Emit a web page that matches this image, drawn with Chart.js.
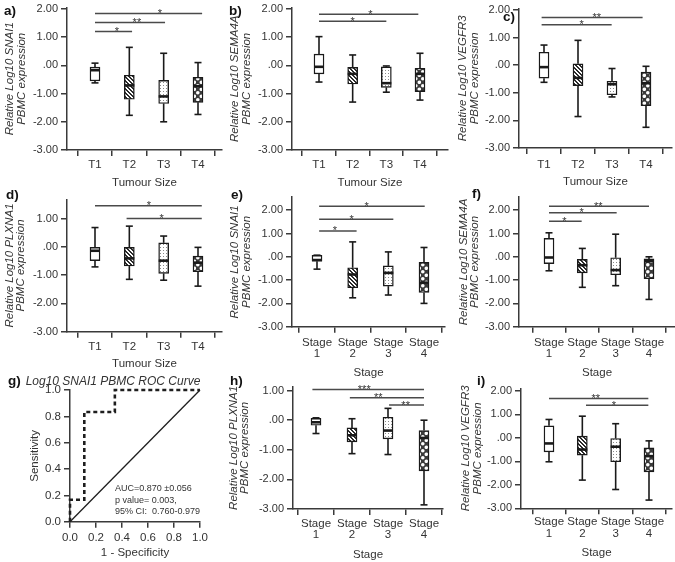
<!DOCTYPE html>
<html><head><meta charset="utf-8">
<script src="https://cdn.jsdelivr.net/npm/chart.js@4/dist/chart.umd.min.js"></script>
<style>
html,body{margin:0;padding:0;background:#fff;width:675px;height:562px;overflow:hidden;position:relative}
canvas{position:absolute}
</style></head><body>
<script>
// ---------------- DATA ----------------
const tumourCats = ['T1','T2','T3','T4'];
const stageCats = [['Stage','1'],['Stage','2'],['Stage','3'],['Stage','4']];
const yTickValues = [-3,-2,-1,0,1,2];

// box plots: whisker min, Q1, median, Q3, whisker max (per category)
// a) SNAI1 by tumour size
const aMin = [-0.62,-1.77,-2.00,-1.74];
const aQ1  = [-0.55,-1.20,-1.35,-1.31];
const aMed = [-0.17,-0.71,-1.10,-0.74];
const aQ3  = [-0.06,-0.35,-0.53,-0.42];
const aMax = [ 0.08, 0.64, 0.43, 0.10];
const aSig = [[1,2.08,1.20,'*',1.64],[1,3.04,1.52,'**',2.22],[1,4.12,1.84,'*',2.89]];
// b) SEMA4A by tumour size
const bMin = [-0.59,-1.30,-0.95,-1.23];
const bQ1  = [-0.30,-0.66,-0.78,-0.93];
const bMed = [-0.05,-0.30,-0.63,-0.30];
const bQ3  = [ 0.40,-0.07,-0.05,-0.10];
const bMax = [ 1.02, 0.37,-0.02, 0.43];
const bSig = [[1,3.0,1.57,'*',2.0],[1,3.95,1.81,'*',2.53]];
// c) VEGFR3 by tumour size
const cMin = [-0.62,-1.86,-1.15,-2.25];
const cQ1  = [-0.47,-0.74,-1.07,-1.47];
const cMed = [-0.07,-0.46,-0.69,-0.65];
const cQ3  = [ 0.47, 0.05,-0.58,-0.25];
const cMax = [ 0.73, 0.90,-0.12,-0.04];
const cSig = [[0.93,2.99,1.47,'*',2.11],[0.93,3.9,1.73,'**',2.55]];
// d) PLXNA1 by tumour size
const dMin = [-0.71,-1.15,-1.18,-1.39];
const dQ1  = [-0.49,-0.68,-0.94,-0.88];
const dMed = [-0.14,-0.41,-0.49,-0.56];
const dQ3  = [-0.02,-0.02, 0.14,-0.33];
const dMax = [ 0.68, 0.73, 0.38,-0.02];
const dSig = [[1,4.11,1.45,'*',2.57],[1.92,4.11,1.0,'*',2.94]];
// e) SNAI1 by stage
const eMin = [-0.53,-1.76,-1.64,-2.00];
const eQ1  = [-0.19,-1.33,-1.26,-1.53];
const eMed = [-0.14,-0.76,-0.69,-1.11];
const eQ3  = [ 0.06,-0.47,-0.39,-0.24];
const eMax = [ 0.07, 0.64, 0.21, 0.40];
const eSig = [[1.06,2.11,1.11,'*',1.5],[1.06,3.14,1.61,'*',1.97],[1.06,4.02,2.17,'*',2.39]];
// f) SEMA4A by stage
const fMin = [-0.60,-1.31,-1.24,-1.83];
const fQ1  = [-0.29,-0.69,-0.77,-0.94];
const fMed = [-0.03,-0.36,-0.57,-0.19];
const fQ3  = [ 0.79,-0.11,-0.04,-0.09];
const fMax = [ 1.03, 0.36, 0.97, 0.00];
const fSig = [[1,1.98,1.53,'*',1.46],[1,3.03,1.89,'*',1.98],[1,4.0,2.17,'**',2.48]];
// h) PLXNA1 by stage
const hMin = [-0.45,-1.13,-1.16,-2.86];
const hQ1  = [-0.17,-0.73,-0.63,-1.71];
const hMed = [-0.07,-0.51,-0.35,-0.60];
const hQ3  = [ 0.06,-0.26, 0.10,-0.35];
const hMax = [ 0.08, 0.05, 0.40, 0.00];
const hSig = [[0.9,4.0,1.04,'***',2.34],[1.94,4.0,0.76,'**',2.73],[3.03,4.0,0.51,'**',3.49]];
// i) VEGFR3 by stage
const iMin = [-1.02,-1.80,-2.20,-2.65];
const iQ1  = [-0.60,-0.74,-1.02,-1.45];
const iMed = [-0.24,-0.50,-0.38,-0.78];
const iQ3  = [ 0.51, 0.07,-0.03,-0.43];
const iMax = [ 0.78, 0.92, 0.60,-0.13];
const iSig = [[1,3.98,1.67,'**',2.4],[2.11,3.98,1.39,'*',2.95]];
// g) ROC curve
const rocFpr = [0,0,0.11,0.11,0.345,0.345,1];
const rocTpr = [0,0.167,0.167,0.833,0.833,1,1];
const refX = [0,1];
const refY = [0,1];
const rocTicks = [0,0.2,0.4,0.6,0.8,1.0];
const rocNotes = ['AUC=0.870 \u00B10.056','p value= 0.003,','95% CI:  0.760-0.979'];

// ---------------- DRAWING ----------------
const FONT = "'Liberation Sans', Arial, sans-serif";
const TXT = '#333';
const AX = '#3a3a3a';

function makePattern(kind){
  const c = document.createElement('canvas'); const g = c.getContext('2d');
  if (kind === 'white') return '#ffffff';
  if (kind === 'hatch'){
    c.width = 4; c.height = 4; g.fillStyle = '#fff'; g.fillRect(0,0,4,4);
    g.fillStyle = '#2b2b2b';
    for (let i=0;i<4;i++){ g.fillRect(i,i,1,1); g.fillRect((i+1)%4,i,1,1); }
  } else if (kind === 'dots'){
    c.width = 3; c.height = 3; g.fillStyle = '#fff'; g.fillRect(0,0,3,3);
    g.fillStyle = '#8a8a8a'; g.fillRect(1,1,1,1);
  } else {
    c.width = 7; c.height = 7; g.fillStyle = '#3a3a3a'; g.fillRect(0,0,7,7);
    g.fillStyle = '#fff';
    g.beginPath(); g.arc(1.8,1.8,1.8,0,7); g.fill();
    g.beginPath(); g.arc(5.3,5.3,1.8,0,7); g.fill();
  }
  return g.createPattern(c,'repeat');
}
const PATS = [makePattern('white'), makePattern('hatch'), makePattern('dots'), makePattern('cross')];

function makeCanvas(left, top, w, h){
  const c = document.createElement('canvas');
  c.width = w; c.height = h;
  c.style.left = left+'px'; c.style.top = top+'px';
  c.style.width = w+'px'; c.style.height = h+'px';
  document.body.appendChild(c);
  return c;
}
function seg(ctx,x1,y1,x2,y2){ ctx.beginPath(); ctx.moveTo(x1,y1); ctx.lineTo(x2,y2); ctx.stroke(); }

function letterPlugin(id, text, ax, ay, p){
  return { id: 'letter'+id, afterDraw(chart){
    const ctx = chart.ctx; ctx.save();
    ctx.font = 'bold 13.5px '+FONT; ctx.fillStyle = '#111';
    ctx.textAlign = 'left'; ctx.textBaseline = 'middle';
    ctx.fillText(text, ax - p.left, ay - p.top);
    ctx.restore();
  }};
}

function boxPanel(p){
  const W = 225;
  const cv = makeCanvas(p.left, p.top, W, p.h);
  const caTop = p.caB - (p.ymax + 3) * p.unit;
  const k = (p.t4 - p.t1) / 3;
  const xmin = 1 - (p.t1 - p.caL) / k;
  const xmax = 4 + (p.caR - p.t4) / k;
  const yW = p.caL - p.left;
  const xH = p.top + p.h - p.caB;
  const padTop = caTop - p.top;
  const padRight = p.left + W - p.caR;
  const stage = p.cats === stageCats;
  const extras = {
    id: 'box'+p.letter,
    afterDatasetsDraw(chart){
      const ctx = chart.ctx, x = chart.scales.x, y = chart.scales.y;
      ctx.save();
      ctx.strokeStyle = '#1a1a1a'; ctx.lineCap = 'butt';
      for (let i=0;i<4;i++){
        const cx = x.getPixelForValue(i+1);
        const ymn = y.getPixelForValue(p.mins[i]), yq1 = y.getPixelForValue(p.q1[i]);
        const ymd = y.getPixelForValue(p.med[i]), yq3 = y.getPixelForValue(p.q3[i]);
        const ymx = y.getPixelForValue(p.maxs[i]);
        ctx.lineWidth = 1.6;
        seg(ctx,cx,yq3,cx,ymx); seg(ctx,cx,yq1,cx,ymn);
        seg(ctx,cx-3.5,ymx,cx+3.5,ymx); seg(ctx,cx-3.5,ymn,cx+3.5,ymn);
        ctx.lineWidth = 2.6; seg(ctx,cx-5,ymd,cx+5,ymd);
      }
      ctx.strokeStyle = '#4a4a4a'; ctx.fillStyle = '#333'; ctx.lineWidth = 1.5;
      ctx.font = '11px '+FONT; ctx.textAlign = 'center'; ctx.textBaseline = 'alphabetic';
      p.sig.forEach(s => {
        const yy = y.getPixelForValue(s[2]);
        seg(ctx, x.getPixelForValue(s[0]), yy, x.getPixelForValue(s[1]), yy);
        ctx.fillText(s[3], x.getPixelForValue(s[4]), yy + 3.5);
      });
      ctx.restore();
    }
  };
  return new Chart(cv, {
    type: 'bar',
    data: { labels: [1,2,3,4], datasets: [{
      data: p.q1.map((v,i) => [v, p.q3[i]]),
      backgroundColor: PATS, borderColor: '#1a1a1a', borderWidth: 1.4,
      borderSkipped: false, barThickness: 10 }]},
    options: {
      responsive: false, animation: false, devicePixelRatio: 1,
      layout: { padding: { left: 0, top: padTop, right: padRight, bottom: 0 } },
      plugins: { legend: { display: false }, tooltip: { enabled: false } },
      scales: {
        x: { type: 'linear', min: xmin, max: xmax, offset: false,
          afterBuildTicks(s){ s.ticks = [1,2,3,4].map(v => ({value: v})); },
          afterFit(s){ s.height = xH; s.paddingLeft = 0; s.paddingRight = 0; s.paddingTop = 0; s.paddingBottom = 0; },
          grid: { drawOnChartArea: false, drawTicks: true, tickLength: 6, color: AX, lineWidth: 1.5 },
          border: { display: true, color: AX, width: 1.5 },
          ticks: { callback: v => p.cats[Math.round(v)-1], color: TXT, maxRotation: 0, autoSkip: false,
            font: { family: FONT, size: stage ? 11.5 : 11.5, lineHeight: stage ? 0.96 : 1.0 }, padding: p.tickPad },
          title: { display: true, text: p.xTitle, color: TXT, font: { family: FONT, size: 11.5, lineHeight: 1.0 },
            padding: { top: 0, bottom: p.top + p.h - p.xTitleY - 5.75 } }
        },
        y: { type: 'linear', min: -3, max: p.ymax,
          afterBuildTicks(s){ s.ticks = yTickValues.filter(v => v <= p.ymax).map(v => ({value: v})); },
          afterFit(s){ s.width = yW; s.paddingLeft = 0; s.paddingRight = 0; s.paddingTop = 0; s.paddingBottom = 0; },
          grid: { drawOnChartArea: false, drawTicks: true, tickLength: 6, color: AX, lineWidth: 1.5 },
          border: { display: true, color: AX, width: 1.5 },
          ticks: { callback: v => v === 0 ? '.00' : v.toFixed(2), color: TXT, font: { family: FONT, size: 11 }, padding: 3 },
          title: { display: true, text: ['Relative Log10 ' + p.gene, 'PBMC expression'], color: TXT,
            font: { family: FONT, size: 11.5, style: 'italic', lineHeight: 1.0 },
            padding: { top: p.yTitleX - p.left - 5.75, bottom: 0 } }
        }
      }
    },
    plugins: [extras, letterPlugin(p.letter, p.letter + ')', p.lx, p.ly, p)]
  });
}

function rocPanel(p){
  const W = 225;
  const cv = makeCanvas(p.left, p.top, W, p.h);
  const yW = p.caL - p.left, xH = p.top + p.h - p.caB;
  const notes = {
    id: 'rocNotes',
    afterDraw(chart){
      const ctx = chart.ctx; ctx.save();
      ctx.fillStyle = TXT; ctx.textBaseline = 'middle';
      ctx.font = 'italic 12px ' + FONT; ctx.textAlign = 'center';
      ctx.fillText('Log10 SNAI1 PBMC ROC Curve', 113 - p.left, 382 - p.top);
      ctx.font = '9px ' + FONT; ctx.textAlign = 'left';
      rocNotes.forEach((t, i) => ctx.fillText(t, 115 - p.left, 489 + i * 11.5 - p.top));
      ctx.restore();
    }
  };
  return new Chart(cv, {
    type: 'scatter',
    data: { datasets: [
      { data: rocFpr.map((v,i) => ({x: v, y: rocTpr[i]})), showLine: true, borderColor: '#1e1e1e',
        borderWidth: 2.6, borderDash: [4,3], pointRadius: 0, fill: false, clip: false, tension: 0 },
      { data: refX.map((v,i) => ({x: v, y: refY[i]})), showLine: true, borderColor: '#1e1e1e',
        borderWidth: 1.3, pointRadius: 0, fill: false, clip: false }
    ]},
    options: {
      responsive: false, animation: false, devicePixelRatio: 1,
      layout: { padding: { left: 0, top: p.caT - p.top, right: p.left + W - p.caR, bottom: 0 } },
      plugins: { legend: { display: false }, tooltip: { enabled: false } },
      scales: {
        x: { type: 'linear', min: 0, max: 1,
          afterBuildTicks(s){ s.ticks = rocTicks.map(v => ({value: v})); },
          afterFit(s){ s.height = xH; s.paddingLeft = 0; s.paddingRight = 0; s.paddingTop = 0; s.paddingBottom = 0; },
          grid: { drawOnChartArea: false, tickLength: 6, color: AX, lineWidth: 1.5 },
          border: { display: true, color: AX, width: 1.5 },
          ticks: { callback: v => v.toFixed(1), color: TXT, font: { family: FONT, size: 11.5 }, padding: 3, maxRotation: 0 },
          title: { display: true, text: '1 - Specificity', color: TXT, font: { family: FONT, size: 11.5, lineHeight: 1.0 },
            padding: { top: 0, bottom: p.top + p.h - 553 - 5.75 } }
        },
        y: { type: 'linear', min: 0, max: 1,
          afterBuildTicks(s){ s.ticks = rocTicks.map(v => ({value: v})); },
          afterFit(s){ s.width = yW; s.paddingLeft = 0; s.paddingRight = 0; s.paddingTop = 0; s.paddingBottom = 0; },
          grid: { drawOnChartArea: false, tickLength: 6, color: AX, lineWidth: 1.5 },
          border: { display: true, color: AX, width: 1.5 },
          ticks: { callback: v => v.toFixed(1), color: TXT, font: { family: FONT, size: 11.5 }, padding: 3 },
          title: { display: true, text: 'Sensitivity', color: TXT, font: { family: FONT, size: 11.5, lineHeight: 1.0 },
            padding: { top: 35 - p.left - 5.75, bottom: 0 } }
        }
      }
    },
    plugins: [notes, letterPlugin('g', 'g)', 8, 381, p)]
  });
}

boxPanel({letter:'a', left:0, top:0, h:192, caL:67, caR:222, caB:150, unit:28.2, ymax:2.05, t1:95, t4:198,
  cats:tumourCats, gene:'SNAI1', xTitle:'Tumour Size', xTitleY:183, yTitleX:10, tickPad:3.5, lx:4, ly:11,
  mins:aMin, q1:aQ1, med:aMed, q3:aQ3, maxs:aMax, sig:aSig});
boxPanel({letter:'b', left:225, top:0, h:192, caL:292, caR:448, caB:150, unit:28.2, ymax:2.05, t1:319, t4:420,
  cats:tumourCats, gene:'SEMA4A', xTitle:'Tumour Size', xTitleY:183, yTitleX:235, tickPad:3.5, lx:229, ly:11,
  mins:bMin, q1:bQ1, med:bMed, q3:bQ3, maxs:bMax, sig:bSig});
boxPanel({letter:'c', left:450, top:0, h:192, caL:519, caR:672, caB:148, unit:27.6, ymax:2.05, t1:544, t4:646,
  cats:tumourCats, gene:'VEGFR3', xTitle:'Tumour Size', xTitleY:182, yTitleX:463, tickPad:5, lx:503, ly:17,
  mins:cMin, q1:cQ1, med:cMed, q3:cQ3, maxs:cMax, sig:cSig});
boxPanel({letter:'d', left:0, top:186, h:194, caL:67, caR:222, caB:331.7, unit:28.3, ymax:1.68, t1:95, t4:198,
  cats:tumourCats, gene:'PLXNA1', xTitle:'Tumour Size', xTitleY:364, yTitleX:9.3, tickPad:3, lx:6, ly:195,
  mins:dMin, q1:dQ1, med:dMed, q3:dQ3, maxs:dMax, sig:dSig});
boxPanel({letter:'e', left:225, top:186, h:194, caL:292, caR:445, caB:326.7, unit:23.3, ymax:2.56, t1:317, t4:424,
  cats:stageCats, gene:'SNAI1', xTitle:'Stage', xTitleY:373, yTitleX:235, tickPad:4.5, lx:231, ly:195,
  mins:eMin, q1:eQ1, med:eMed, q3:eQ3, maxs:eMax, sig:eSig});
boxPanel({letter:'f', left:450, top:186, h:194, caL:519, caR:675, caB:326.7, unit:23.3, ymax:2.56, t1:549, t4:649,
  cats:stageCats, gene:'SEMA4A', xTitle:'Stage', xTitleY:373, yTitleX:463.3, tickPad:4.5, lx:472, ly:194,
  mins:fMin, q1:fQ1, med:fMed, q3:fQ3, maxs:fMax, sig:fSig});
rocPanel({left:0, top:372, h:190, caL:70, caR:200, caT:390, caB:521.7});
boxPanel({letter:'h', left:225, top:372, h:190, caL:293, caR:443, caB:509, unit:29.6, ymax:1.13, t1:316, t4:424,
  cats:stageCats, gene:'PLXNA1', xTitle:'Stage', xTitleY:555, yTitleX:233.3, tickPad:3.5, lx:230, ly:381,
  mins:hMin, q1:hQ1, med:hMed, q3:hQ3, maxs:hMax, sig:hSig});
boxPanel({letter:'i', left:450, top:372, h:190, caL:521, caR:672, caB:508.3, unit:23.5, ymax:2.1, t1:549, t4:649,
  cats:stageCats, gene:'VEGFR3', xTitle:'Stage', xTitleY:553, yTitleX:466, tickPad:2.5, lx:477, ly:381,
  mins:iMin, q1:iQ1, med:iMed, q3:iQ3, maxs:iMax, sig:iSig});
</script>
</body></html>
